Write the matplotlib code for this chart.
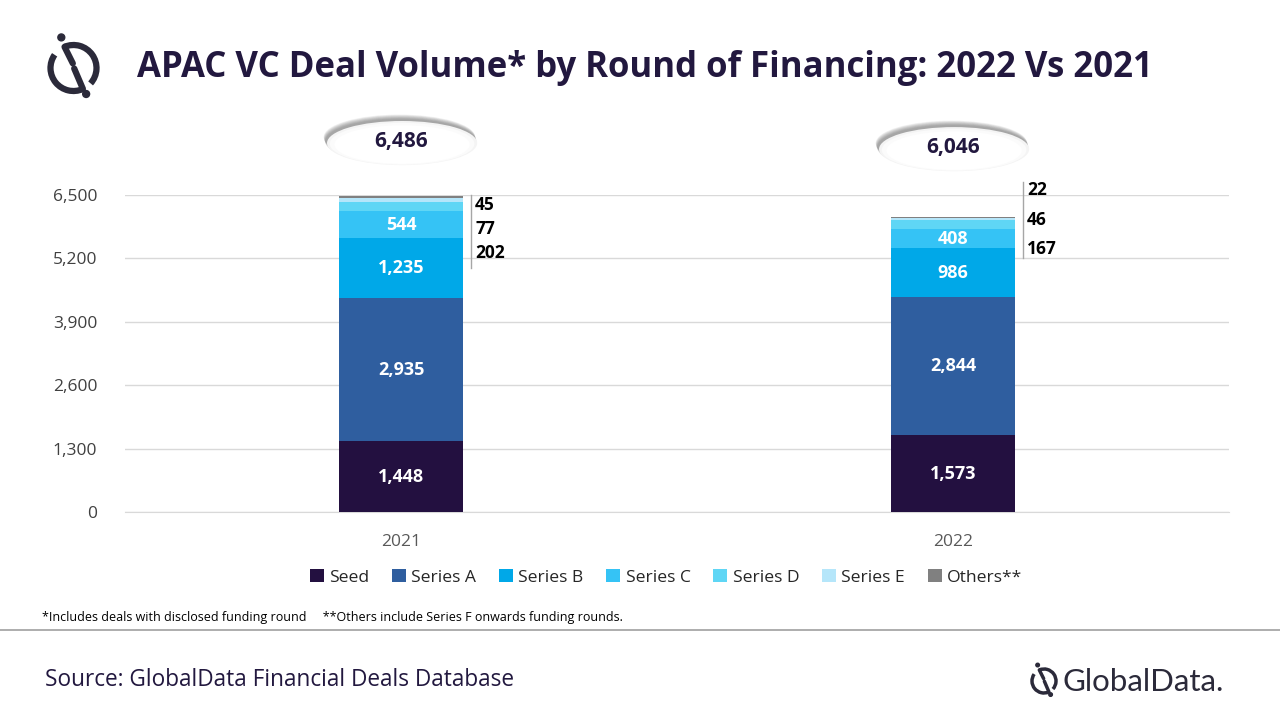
import matplotlib.pyplot as plt
import numpy as np
from matplotlib.patches import Ellipse, Arc, Circle

# ---------------- dados ----------------
anos = ['2021', '2022']
rodadas = ['Seed', 'Series A', 'Series B', 'Series C', 'Series D', 'Series E', 'Others**']
seed = [1448, 1573]
serie_a = [2935, 2844]
serie_b = [1235, 986]
serie_c = [544, 408]
serie_d = [202, 167]
serie_e = [77, 46]
outros = [45, 22]
totais = [6486, 6046]
yticks = [0, 1300, 2600, 3900, 5200, 6500]

cores = ['#231040', '#2f5e9f', '#00a8e8', '#35c3f5', '#5fd6f5', '#b5e6fa', '#808080']
escuro = '#22183f'

valores = [seed, serie_a, serie_b, serie_c, serie_d, serie_e, outros]

plt.rcParams['font.family'] = ['Open Sans', 'DejaVu Sans']

fig = plt.figure(figsize=(12.8, 7.2), dpi=100)
ax = fig.add_axes([125 / 1280, (720 - 512) / 720, 1104 / 1280, (512 - 195) / 720])

x = np.arange(len(anos))
larg = 0.223
base = np.zeros(len(anos))
for nome, v, c in zip(rodadas, valores, cores):
    ax.bar(x, v, larg, bottom=base, color=c, label=nome, zorder=3)
    base = base + np.array(v)

# rotulos dentro das barras (seed, A, B, C)
base = np.zeros(len(anos))
for i, v in enumerate(valores):
    for j in range(len(anos)):
        if i < 4:
            ax.text(x[j], base[j] + v[j] / 2, f'{v[j]:,}', ha='center', va='center',
                    color='white', fontsize=13, fontweight='bold', zorder=4)
    base = base + np.array(v)

# rotulos pequenos com linha ao lado (D, E, Others)
desl = [(-190, -490, -500), (560, -615, -595)]
topo_linha = [6500, 6760]
fim_linha = [5000, 5200]
for j in range(len(anos)):
    xl = x[j] + larg / 2 + 0.015
    ax.plot([xl, xl], [fim_linha[j], topo_linha[j]], color='#a6a6a6', lw=1, zorder=3, clip_on=False)
    yy = totais[j] + desl[j][0]
    for k, v in enumerate([outros[j], serie_e[j], serie_d[j]]):
        if k > 0:
            yy = yy + desl[j][k]
        ax.text(xl + 0.008, yy, f'{v:,}', ha='left', va='center', color='black',
                fontsize=12.5, fontweight='bold', clip_on=False)

# elipses com os totais (sombra suave em cima)
cy = [7590, 7465]
for j in range(len(anos)):
    for s in np.linspace(10, 100, 10):
        ax.add_patch(Ellipse((x[j] - s * 0.00003, cy[j] + s), 0.274, 920, facecolor='#5a5a5a',
                             alpha=0.07, edgecolor='none', clip_on=False, zorder=5))
    for k, (w, h, c) in enumerate([(0.272, 905, '#f4f4f4'), (0.262, 860, '#fbfbfb'),
                                   (0.245, 790, 'white')]):
        ax.add_patch(Ellipse((x[j] + 0.002, cy[j] - 25 - k * 15), w, h, facecolor=c,
                             edgecolor='none', clip_on=False, zorder=6))
    ax.text(x[j], cy[j], f'{totais[j]:,}', ha='center', va='center', color=escuro,
            fontsize=15, fontweight='bold', zorder=7, clip_on=False)

ax.set_xlim(-0.5, 1.5)
ax.set_ylim(0, 6500)
ax.set_yticks(yticks)
ax.set_yticklabels([f'{t:,}' for t in yticks], color='#404040', fontsize=12.5)
ax.set_xticks(x)
ax.set_xticklabels(anos, color='#595959', fontsize=12.5)
ax.tick_params(axis='y', length=0, pad=20)
ax.tick_params(axis='x', length=0, pad=16)
ax.grid(axis='y', color='#d9d9d9', lw=1, zorder=0)
for s in ['top', 'right', 'left']:
    ax.spines[s].set_visible(False)
ax.spines['bottom'].set_color('#d9d9d9')

leg = ax.legend(loc='upper center', bbox_to_anchor=(0.49, -0.13), ncol=7, frameon=False,
                fontsize=12.6, handlelength=0.8, handleheight=0.8, handletextpad=0.3,
                columnspacing=1.3)
for t in leg.get_texts():
    t.set_color('#262626')

# titulo
fig.text(137 / 1280, 1 - 68 / 720, 'APAC VC Deal Volume* by Round of Financing: 2022 Vs 2021',
         ha='left', va='center', fontsize=25, fontweight='bold', color=escuro)


def logo(cxp, cyp, r, cor, lw):
    la = fig.add_axes([(cxp - 2 * r) / 1280, 1 - (cyp + 2 * r) / 720, 4 * r / 1280, 4 * r / 720])
    la.set_xlim(-2, 2)
    la.set_ylim(-2, 2)
    la.axis('off')
    la.add_patch(Arc((0, 0), 2, 2, theta1=-42, theta2=113, color=cor, lw=lw))
    la.add_patch(Arc((0, 0), 2, 2, theta1=145, theta2=294, color=cor, lw=lw))
    la.plot([-0.39, -0.03], [0.92, 0.2], color=cor, lw=lw, solid_capstyle='round')
    la.plot([0.03, 0.41], [-0.02, -0.91], color=cor, lw=lw, solid_capstyle='round')
    la.add_patch(Circle((-0.53, 1.33), 0.15, color=cor))
    la.add_patch(Circle((0.55, -1.13), 0.15, color=cor))


logo(73.5, 68, 23, '#2b2a3a', 4.5)

# notas de rodape
fig.text(42 / 1280, 1 - 618 / 720,
         '*Includes deals with disclosed funding round     **Others include Series F onwards funding rounds.',
         ha='left', va='center', fontsize=9, color='black')
fig.add_artist(plt.Line2D([0, 1], [1 - 630 / 720, 1 - 630 / 720], color='#a0a0a0', lw=1.2))
fig.text(45 / 1280, 1 - 680 / 720, 'Source: GlobalData Financial Deals Database',
         ha='left', va='center', fontsize=16.3, color=escuro)

logo(1044, 681, 12, '#2b2a3a', 2.5)
fig.text(1063 / 1280, 1 - 682 / 720, 'GlobalData.', ha='left', va='center', fontsize=22.5,
         color='#2b2a3a', family=['Lato', 'DejaVu Sans'])

fig.savefig('out.png', dpi=100)
